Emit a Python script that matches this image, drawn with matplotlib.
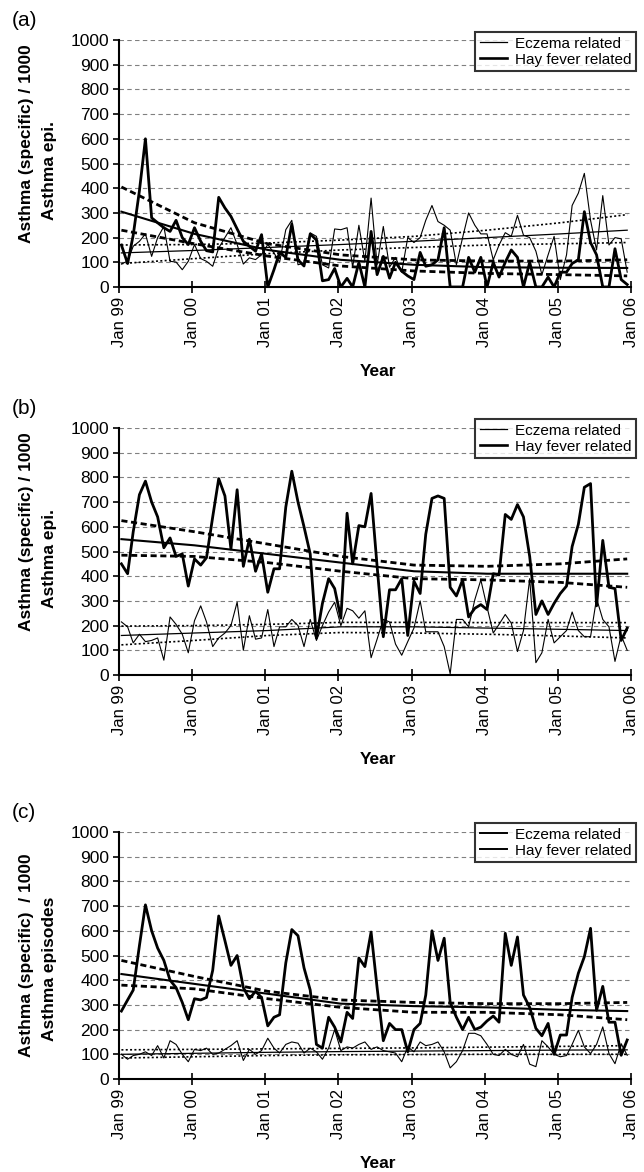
import numpy as np
import pandas as pd
import matplotlib
matplotlib.use("Agg")
import matplotlib.pyplot as plt
import matplotlib.dates as mdates
from matplotlib.lines import Line2D

plt.rcParams["font.family"] = ["Liberation Sans", "DejaVu Sans"]

# monthly points, Jan 99 .. Dec 05 (plotted a little after the month start, as in the original)
MONTHS = pd.date_range("1999-01-01", periods=84, freq="MS") + pd.Timedelta(days=12)
TREND_IDX = [0, 12, 24, 36, 48, 60, 72, 83]
YEAR_TICKS = pd.date_range("1999-01-01", "2006-01-01", freq="YS")

# ---- panel (a) ----
ECZ_A = [93, 105, 165, 185, 215, 124, 200, 245, 104, 101, 70, 104,
         172, 115, 104, 84, 158, 200, 240, 172, 93, 118, 111, 131,
         172, 138, 100, 232, 270, 90, 97, 219, 205, 90, 77, 235,
         232, 240, 80, 250, 104, 360, 90, 245, 80, 120, 60, 200,
         180, 200, 270, 330, 265, 250, 230, 90, 200, 300, 250, 215,
         215, 110, 170, 220, 205, 290, 210, 200, 145, 50, 130, 205,
         30, 130, 330, 380, 460, 270, 150, 370, 170, 200, 195, 60]
HAY_A = [170, 95, 210, 390, 600, 280, 260, 240, 225, 270, 200, 172,
         240, 185, 147, 142, 363, 320, 286, 235, 185, 165, 145, 212,
         0, 70, 140, 120, 255, 110, 85, 215, 190, 25, 30, 75,
         0, 35, 0, 100, 0, 225, 50, 124, 36, 100, 64, 45,
         30, 140, 84, 90, 110, 240, 0, 0, 0, 120, 60, 120,
         0, 100, 40, 100, 150, 120, 0, 100, 0, 0, 40, 0,
         60, 60, 95, 110, 305, 180, 130, 0, 0, 155, 30, 10]
ECZ_FIT_A = [138, 148, 160, 172, 185, 200, 215, 230]
ECZ_HI_A = [170, 172, 178, 190, 205, 230, 260, 293]
ECZ_LO_A = [95, 115, 135, 150, 160, 170, 175, 180]
HAY_FIT_A = [305, 215, 150, 110, 90, 80, 78, 77]
HAY_HI_A = [405, 260, 175, 130, 110, 105, 105, 110]
HAY_LO_A = [230, 175, 125, 85, 65, 55, 50, 45]

# ---- panel (b) ----
ECZ_B = [215, 195, 130, 165, 135, 140, 150, 60, 235, 205, 165, 90,
         220, 280, 215, 115, 150, 170, 200, 295, 100, 240, 145, 150,
         265, 115, 195, 195, 225, 200, 115, 225, 140, 200, 255, 295,
         200, 270, 260, 230, 260, 70, 145, 225, 215, 125, 80, 135,
         190, 300, 175, 175, 175, 115, 5, 225, 225, 195, 305, 385,
         275, 170, 205, 245, 210, 95, 180, 390, 50, 90, 225, 130,
         155, 180, 255, 180, 155, 155, 310, 225, 195, 55, 160, 100]
HAY_B = [450, 410, 580, 730, 785, 700, 640, 515, 555, 480, 490, 360,
         470, 445, 475, 640, 795, 725, 510, 750, 440, 550, 420, 490,
         335, 430, 430, 680, 825, 700, 600, 490, 150, 290, 390, 350,
         230, 655, 450, 605, 600, 735, 440, 155, 345, 345, 390, 160,
         380, 330, 570, 715, 725, 715, 355, 320, 385, 235, 270, 285,
         265, 410, 405, 650, 630, 690, 640, 480, 245, 300, 245, 290,
         330, 360, 520, 610, 760, 775, 280, 545, 355, 350, 140, 190]
ECZ_FIT_B = [160, 170, 180, 195, 195, 190, 185, 180]
ECZ_HI_B = [198, 200, 205, 213, 213, 212, 212, 212]
ECZ_LO_B = [122, 140, 160, 172, 170, 165, 158, 150]
HAY_FIT_B = [550, 525, 490, 455, 420, 410, 410, 410]
HAY_HI_B = [625, 580, 530, 480, 445, 440, 450, 470]
HAY_LO_B = [485, 480, 455, 420, 390, 385, 375, 355]

# ---- panel (c) ----
ECZ_C = [100, 80, 95, 100, 110, 95, 135, 85, 155, 140, 100, 70,
         120, 115, 125, 100, 105, 120, 135, 155, 75, 120, 100, 115,
         165, 125, 105, 140, 150, 145, 105, 125, 110, 80, 125, 200,
         115, 130, 125, 140, 150, 120, 130, 115, 110, 105, 70, 130,
         110, 150, 135, 140, 150, 110, 45, 70, 115, 185, 185, 175,
         140, 100, 95, 120, 100, 90, 140, 60, 50, 155, 130, 100,
         90, 95, 140, 197, 130, 103, 140, 211, 103, 62, 143, 96]
HAY_C = [275, 320, 360, 540, 705, 600, 530, 480, 400, 370, 310, 240,
         325, 320, 330, 440, 660, 560, 460, 500, 370, 325, 355, 330,
         215, 250, 260, 470, 605, 580, 450, 360, 140, 125, 250, 210,
         150, 270, 245, 490, 455, 595, 370, 155, 225, 200, 200, 110,
         200, 225, 340, 600, 480, 570, 310, 250, 200, 250, 200, 210,
         235, 255, 230, 590, 460, 575, 340, 290, 205, 175, 225, 100,
         178, 178, 330, 428, 495, 610, 278, 375, 230, 230, 96, 158]
ECZ_FIT_C = [100, 104, 108, 111, 113, 115, 117, 118]
ECZ_HI_C = [118, 120, 122, 124, 126, 129, 132, 135]
ECZ_LO_C = [85, 90, 95, 98, 99, 100, 100, 100]
HAY_FIT_C = [425, 385, 345, 305, 295, 290, 280, 275]
HAY_HI_C = [480, 415, 355, 320, 310, 305, 305, 310]
HAY_LO_C = [380, 365, 325, 290, 270, 270, 260, 240]

LEGEND_LABELS = ["Eczema related", "Hay fever related"]
PANEL_TAGS = ["(a)", "(b)", "(c)"]
YLABEL_TOP = ["Asthma (specific) / 1000", "Asthma (specific) / 1000", "Asthma (specific)  / 1000"]
YLABEL_BOTTOM = ["Asthma epi.", "Asthma epi.", "Asthma episodes"]

W, H = 644, 1172
fig = plt.figure(figsize=(W / 100, H / 100), dpi=100)

panels = [
    (ECZ_A, HAY_A, ECZ_FIT_A, ECZ_HI_A, ECZ_LO_A, HAY_FIT_A, HAY_HI_A, HAY_LO_A),
    (ECZ_B, HAY_B, ECZ_FIT_B, ECZ_HI_B, ECZ_LO_B, HAY_FIT_B, HAY_HI_B, HAY_LO_B),
    (ECZ_C, HAY_C, ECZ_FIT_C, ECZ_HI_C, ECZ_LO_C, HAY_FIT_C, HAY_HI_C, HAY_LO_C),
]
# pixel top of each plot area
tops = [40, 428, 832]
ax_left, ax_right, ax_h = 119, 631, 247

trend_x = MONTHS[TREND_IDX]
dot = (0, (1.2, 1.4))
dash = (0, (2.2, 1.3))

for k, (ecz, hay, ef, eh, el, hf, hh, hl) in enumerate(panels):
    top = tops[k]
    ax = fig.add_axes([ax_left / W, 1 - (top + ax_h) / H, (ax_right - ax_left) / W, ax_h / H])

    ax.plot(MONTHS, ecz, color="black", lw=0.8)
    ax.plot(MONTHS, hay, color="black", lw=2.0)
    ax.plot(trend_x, ef, color="black", lw=0.9)
    ax.plot(trend_x, eh, color="black", lw=1.2, ls=dot)
    ax.plot(trend_x, el, color="black", lw=1.2, ls=dot)
    ax.plot(trend_x, hf, color="black", lw=1.5)
    ax.plot(trend_x, hh, color="black", lw=2.0, ls=dash)
    ax.plot(trend_x, hl, color="black", lw=2.0, ls=dash)

    ax.set_xlim(pd.Timestamp("1999-01-01"), pd.Timestamp("2006-01-01"))
    ax.set_ylim(0, 1000)
    ax.set_yticks(range(0, 1001, 100))
    ax.set_xticks(YEAR_TICKS)
    ax.xaxis.set_major_formatter(mdates.DateFormatter("%b %y"))
    for lab in ax.get_xticklabels():
        lab.set_rotation(90)

    ax.grid(axis="y", color="#808080", ls=(0, (4, 3)), lw=0.8)
    ax.grid(axis="x", visible=False)
    ax.set_axisbelow(True)
    for s in ["top", "right"]:
        ax.spines[s].set_visible(False)
    for s in ["left", "bottom"]:
        ax.spines[s].set_linewidth(1.5)
    ax.tick_params(axis="y", direction="out", length=4, width=1.2, labelsize=12.5, pad=3)
    ax.tick_params(axis="x", direction="inout", length=8, width=1.2, labelsize=12, pad=3)

    if k < 2:
        handles = [Line2D([], [], color="black", lw=0.9), Line2D([], [], color="black", lw=1.9)]
    else:
        handles = [Line2D([], [], color="black", lw=1.4), Line2D([], [], color="black", lw=1.4)]
    leg = ax.legend(handles, LEGEND_LABELS, loc="upper right",
                    bbox_to_anchor=(1.01, 1.032 if k == 0 else 1.036), borderaxespad=0,
                    fontsize=11, frameon=True, fancybox=False, shadow=False,
                    borderpad=0.3, labelspacing=0.12, handlelength=1.8, handletextpad=0.5)
    leg.get_frame().set_edgecolor("black")
    leg.get_frame().set_linewidth(1.5)

    # y label (two lines) and x label
    mid = top + ax_h / 2
    fig.text(27 / W, 1 - (mid - 20 if k < 2 else mid) / H, YLABEL_TOP[k], rotation=90,
             ha="center", va="center", fontsize=12.5, fontweight="bold")
    fig.text(50 / W, 1 - (mid + 7 if k < 2 else mid + 13) / H, YLABEL_BOTTOM[k], rotation=90,
             ha="center", va="center", fontsize=12.5, fontweight="bold")
    fig.text(378 / W, 1 - (top + 331) / H, "Year", ha="center", va="center",
             fontsize=12.5, fontweight="bold")
    fig.text(12 / W, 1 - (top - 19) / H, PANEL_TAGS[k], ha="left", va="center", fontsize=15)

fig.savefig("out.png", dpi=100)
